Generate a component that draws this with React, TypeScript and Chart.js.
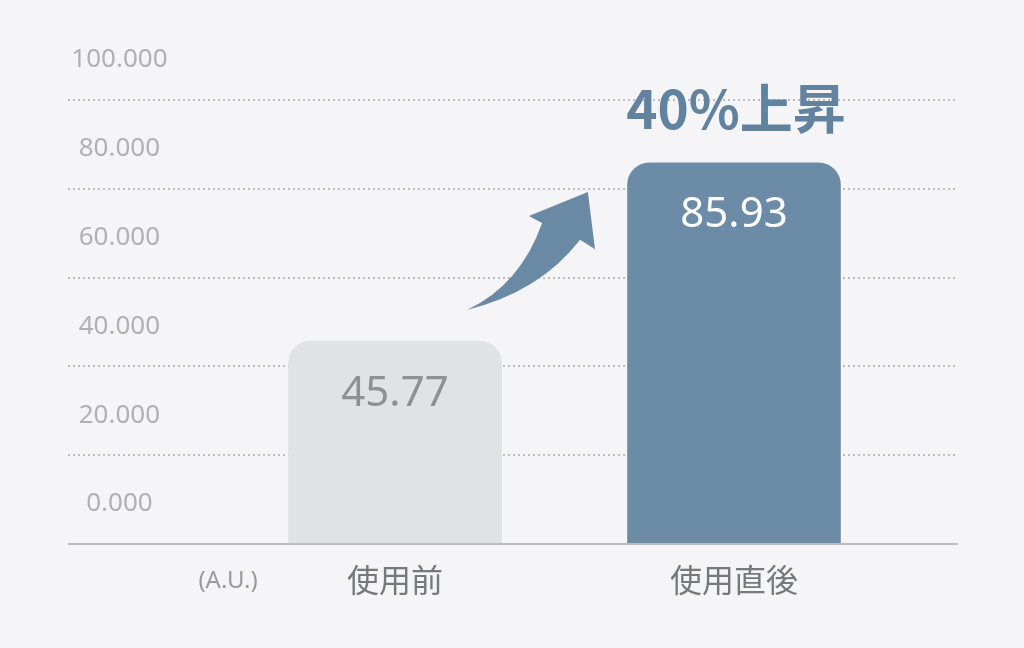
import { Chart, registerables } from "chart.js";
import { useEffect, useRef } from "react";

Chart.register(...registerables);

const categories = ["使用前", "使用直後"];
const values = [45.77, 85.93];
const valueLabels = ["45.77", "85.93"];
const yTicks = [0, 20, 40, 60, 80, 100];
const unitLabel = "(A.U.)";
const riseLabel = "40%上昇";

const BG = "#f5f5f7";
const BLUE = "#6b8ba7";
const GRAY_BAR = "#e1e2e4";
const FONT = "'Noto Sans CJK JP', 'Noto Sans', sans-serif";
const NUM_FONT = "'Noto Sans', 'Noto Sans CJK JP', sans-serif";

// arrow outline: [fraction between the two bar centres, y value]
const arrowShape = {
  tail: [0.212, 52.7],
  upperCtrl: [0.369, 58.3],
  notchL: [0.434, 72.3],
  wingL: [0.395, 73.9],
  tip: [0.569, 79.3],
  wingR: [0.59, 66.4],
  notchR: [0.546, 68.5],
  lowerCtrl: [0.428, 56.8],
};

const decorations = {
  id: "decorations",
  beforeDatasetsDraw(chart: Chart) {
    const { ctx, scales } = chart;
    const y = scales.y;
    ctx.save();
    ctx.strokeStyle = "#bcbcbe";
    ctx.lineWidth = 2;
    ctx.setLineDash([2, 3]);
    yTicks.forEach((t) => {
      if (t === 0) return;
      const py = Math.round(y.getPixelForValue(t));
      ctx.beginPath();
      ctx.moveTo(68, py);
      ctx.lineTo(955, py);
      ctx.stroke();
    });
    ctx.restore();
  },
  afterDatasetsDraw(chart: Chart) {
    const { ctx, scales } = chart;
    const x = scales.x;
    const y = scales.y;
    const meta = chart.getDatasetMeta(0);
    ctx.save();

    // baseline
    const by = y.getPixelForValue(0);
    ctx.strokeStyle = "#bdbdbf";
    ctx.lineWidth = 2;
    ctx.beginPath();
    ctx.moveTo(68, by);
    ctx.lineTo(958, by);
    ctx.stroke();

    // values inside bars
    ctx.textAlign = "center";
    ctx.textBaseline = "middle";
    ctx.font = `400 42px ${NUM_FONT}`;
    meta.data.forEach((bar: any, i: number) => {
      ctx.fillStyle = i === 0 ? "#8e9094" : "#ffffff";
      ctx.fillText(valueLabels[i], bar.x, bar.y + 53);
    });

    // rise label
    ctx.fillStyle = "#6283a0";
    ctx.font = `700 53px ${FONT}`;
    ctx.fillText(riseLabel, x.getPixelForValue(1) + 2, y.getPixelForValue(98));

    // unit label
    ctx.fillStyle = "#9a9a9c";
    ctx.font = `400 24px ${NUM_FONT}`;
    ctx.fillText(unitLabel, 228, 581);

    // arrow
    const c0 = x.getPixelForValue(0);
    const c1 = x.getPixelForValue(1);
    const p = (k: keyof typeof arrowShape) => {
      const [f, v] = arrowShape[k];
      return [c0 + f * (c1 - c0), y.getPixelForValue(v)] as [number, number];
    };
    ctx.fillStyle = "#6a89a5";
    ctx.beginPath();
    ctx.moveTo(...p("tail"));
    ctx.quadraticCurveTo(...p("upperCtrl"), ...p("notchL"));
    ctx.lineTo(...p("wingL"));
    ctx.lineTo(...p("tip"));
    ctx.lineTo(...p("wingR"));
    ctx.lineTo(...p("notchR"));
    ctx.quadraticCurveTo(...p("lowerCtrl"), ...p("tail"));
    ctx.closePath();
    ctx.fill();

    ctx.restore();
  },
};

export default function App() {
  const canvasRef = useRef<HTMLCanvasElement>(null);

  useEffect(() => {
    if (!canvasRef.current) return;
    const ctx = canvasRef.current.getContext("2d");
    if (!ctx) return;

    const chart = new Chart(ctx, {
      type: "bar",
      data: {
        labels: categories,
        datasets: [
          {
            data: values,
            backgroundColor: [GRAY_BAR, BLUE],
            borderRadius: 22,
            borderSkipped: "bottom",
            categoryPercentage: 1,
            barPercentage: 0.63,
          },
        ],
      },
      options: {
        animation: false,
        responsive: true,
        maintainAspectRatio: false,
        layout: { padding: { left: 0, right: 120.5, top: 100, bottom: 0 } },
        plugins: { legend: { display: false }, tooltip: { enabled: false } },
        scales: {
          x: {
            grid: { display: false, drawTicks: false },
            border: { display: false },
            ticks: {
              color: "#77787a",
              font: { family: FONT, size: 32 },
              padding: 17,
            },
            afterFit: (s: any) => {
              s.height = 104;
            },
          },
          y: {
            min: 0,
            max: 100,
            afterBuildTicks: (s: any) => {
              s.ticks = yTicks.map((v) => ({ value: v }));
            },
            grid: { display: false, drawTicks: false },
            border: { display: false },
            ticks: {
              color: "#b1b1b3",
              font: { family: NUM_FONT, size: 26 },
              crossAlign: "center",
              labelOffset: -40,
              padding: 58,
              callback: (v: any) => Number(v).toFixed(3),
            },
            afterFit: (s: any) => {
              s.width = 225.5;
            },
          },
        },
      },
      plugins: [decorations],
    });

    return () => chart.destroy();
  }, []);

  return (
    <div
      style={{
        position: "absolute",
        left: 0,
        top: 0,
        width: 1024,
        height: 648,
        background: BG,
      }}
    >
      <canvas ref={canvasRef} />
    </div>
  );
}
